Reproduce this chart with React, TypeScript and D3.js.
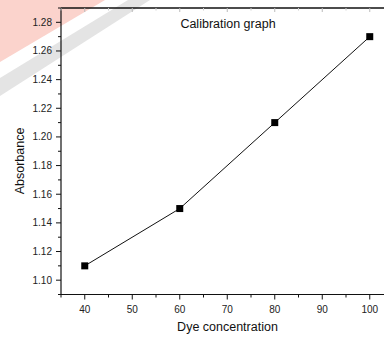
import React from "react";
import * as d3 from "d3";

const concentrations = [40, 60, 80, 100];
const absorbance = [1.11, 1.15, 1.21, 1.27];
const xTicks = [40, 50, 60, 70, 80, 90, 100];
const yTicks = [1.1, 1.12, 1.14, 1.16, 1.18, 1.2, 1.22, 1.24, 1.26, 1.28];
const title = "Calibration graph";
const xLabel = "Dye concentration";
const yLabel = "Absorbance";

const W = 384;
const H = 338;
const left = 61;
const top = 8;
const bottom = 294.5;
const right = 393.5;

export default function App() {
  const x = d3.scaleLinear().domain([35, 105]).range([left, right]);
  const y = d3.scaleLinear().domain([1.09, 1.29]).range([bottom, top]);
  const xMinor = d3.range(35, 106, 5).filter((v) => !xTicks.includes(v));
  const yMinor = d3.range(109, 130, 1).map((v) => v / 100).filter((v) => !yTicks.some((t) => Math.abs(t - v) < 1e-6));
  const line = d3
    .line<number>()
    .x((_, i) => x(concentrations[i]))
    .y((d) => y(d));
  const font = "'Liberation Sans', Arial, sans-serif";
  return (
    <svg
      width={W}
      height={H}
      style={{ position: "absolute", left: 0, top: 0, background: "#fff" }}
      fontFamily={font}
    >
      <g>
        <polygon points="0,0 105,0 0,62" fill="#fbd3cc" />
        <polygon points="0,78 128,0 150,0 0,96" fill="#e4e4e4" />
      </g>
      <line x1={left} x2={W} y1={top} y2={top} stroke="#111" strokeWidth={1.5} />
      <line x1={left} x2={W} y1={bottom} y2={bottom} stroke="#111" strokeWidth={1.2} />
      <line x1={left} x2={left} y1={top} y2={bottom} stroke="#111" strokeWidth={1.2} />
      {xTicks.map((t) => (
        <g key={"xt" + t}>
          <line x1={x(t)} x2={x(t)} y1={bottom} y2={bottom + 5} stroke="#111" />
          <line x1={x(t)} x2={x(t)} y1={top} y2={top + 4} stroke="#bbb" />
          <text x={x(t)} y={313} textAnchor="middle" fontSize={10} fill="#222">
            {t}
          </text>
        </g>
      ))}
      {xMinor.map((t) => (
        <g key={"xm" + t}>
          <line x1={x(t)} x2={x(t)} y1={bottom} y2={bottom + 3} stroke="#111" />
          <line x1={x(t)} x2={x(t)} y1={top} y2={top + 2.5} stroke="#ccc" />
        </g>
      ))}
      {yTicks.map((t) => (
        <g key={"yt" + t}>
          <line x1={left - 5} x2={left} y1={y(t)} y2={y(t)} stroke="#111" />
          <text x={52} y={y(t)} dy="0.35em" textAnchor="end" fontSize={10} fill="#222">
            {t.toFixed(2)}
          </text>
        </g>
      ))}
      {yMinor.map((t) => (
        <line key={"ym" + t} x1={left - 3} x2={left} y1={y(t)} y2={y(t)} stroke="#111" />
      ))}
      <path d={line(absorbance) || ""} fill="none" stroke="#111" strokeWidth={1} />
      {absorbance.map((v, i) => (
        <rect
          key={"p" + i}
          x={x(concentrations[i]) - 3.5}
          y={y(v) - 3.5}
          width={7}
          height={7}
          fill="#000"
        />
      ))}
      <text x={228} y={28} textAnchor="middle" fontSize={12.5} fill="#111">
        {title}
      </text>
      <text x={227.5} y={331} textAnchor="middle" fontSize={12.5} fill="#111">
        {xLabel}
      </text>
      <text
        transform={`translate(24,161) rotate(-90)`}
        textAnchor="middle"
        fontSize={12.5}
        fill="#111"
      >
        {yLabel}
      </text>
    </svg>
  );
}
